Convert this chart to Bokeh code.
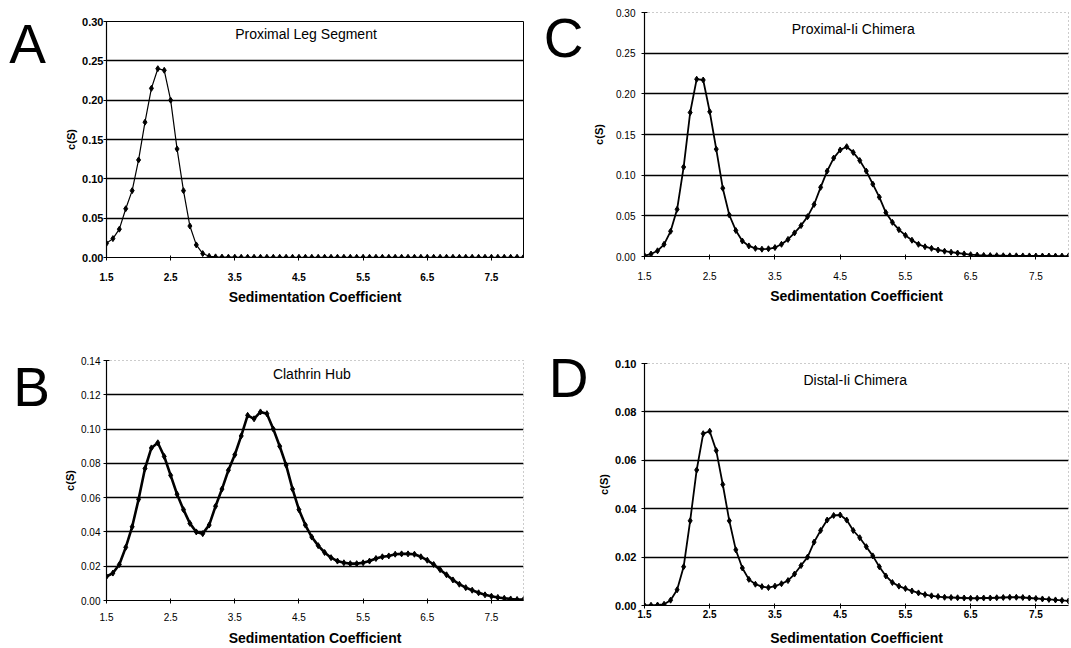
from bokeh.plotting import figure
from bokeh.layouts import column, row
from bokeh.models import Label, FixedTicker, Range1d, PrintfTickFormatter
from bokeh.core.properties import value
from bokeh.embed import file_html
from bokeh.resources import INLINE

FONT = "Liberation Sans"

# Sedimentation coefficient grid (S)
sed_coef = [
    1.5, 1.6, 1.7, 1.8, 1.9, 2.0, 2.1, 2.2, 2.3, 2.4, 2.5, 2.6, 2.7, 2.8, 2.9,
    3.0, 3.1, 3.2, 3.3, 3.4, 3.5, 3.6, 3.7, 3.8, 3.9, 4.0, 4.1, 4.2, 4.3, 4.4,
    4.5, 4.6, 4.7, 4.8, 4.9, 5.0, 5.1, 5.2, 5.3, 5.4, 5.5, 5.6, 5.7, 5.8, 5.9,
    6.0, 6.1, 6.2, 6.3, 6.4, 6.5, 6.6, 6.7, 6.8, 6.9, 7.0, 7.1, 7.2, 7.3, 7.4,
    7.5, 7.6, 7.7, 7.8, 7.9, 8.0,
]

# c(S) distributions
proximal_leg = [
    0.018, 0.024, 0.036, 0.062, 0.085, 0.124, 0.172, 0.215, 0.240, 0.238,
    0.200, 0.138, 0.085, 0.040, 0.016, 0.005, 0.0015, 0.0008, 0.0005, 0.0004,
    0.0004, 0.0003, 0.0003, 0.0003, 0.0003, 0.0003, 0.0003, 0.0003, 0.0003, 0.0003,
    0.0003, 0.0003, 0.0003, 0.0003, 0.0003, 0.0003, 0.0003, 0.0003, 0.0003, 0.0003,
    0.0003, 0.0003, 0.0003, 0.0003, 0.0003, 0.0003, 0.0003, 0.0003, 0.0003, 0.0003,
    0.0003, 0.0003, 0.0003, 0.0003, 0.0003, 0.0003, 0.0003, 0.0003, 0.0003, 0.0003,
    0.0003, 0.0003, 0.0003, 0.0003, 0.0003, 0.0003,
]

clathrin_hub = [
    0.014, 0.016, 0.021, 0.031, 0.043, 0.059, 0.077, 0.089, 0.092, 0.084,
    0.073, 0.062, 0.053, 0.045, 0.040, 0.039, 0.044, 0.055, 0.065, 0.076,
    0.085, 0.096, 0.108, 0.106, 0.110, 0.109, 0.100, 0.090, 0.079, 0.065,
    0.053, 0.044, 0.037, 0.032, 0.028, 0.025, 0.023, 0.022, 0.0215, 0.0215,
    0.022, 0.023, 0.0245, 0.0255, 0.026, 0.027, 0.0272, 0.0272, 0.027, 0.0255,
    0.0235, 0.021, 0.018, 0.015, 0.012, 0.0095, 0.0075, 0.006, 0.0045, 0.0033,
    0.0025, 0.0018, 0.0013, 0.0009, 0.0006, 0.0005,
]

proximal_ii = [
    0.001, 0.003, 0.007, 0.015, 0.031, 0.058, 0.110, 0.177, 0.218, 0.217,
    0.178, 0.132, 0.084, 0.051, 0.032, 0.019, 0.013, 0.010, 0.009, 0.0095,
    0.011, 0.015, 0.021, 0.029, 0.038, 0.049, 0.064, 0.085, 0.105, 0.121,
    0.131, 0.135, 0.128, 0.118, 0.105, 0.089, 0.073, 0.054, 0.042, 0.033,
    0.026, 0.020, 0.015, 0.012, 0.010, 0.008, 0.0065, 0.0053, 0.0043, 0.0032,
    0.0022, 0.0017, 0.0013, 0.0011, 0.0010, 0.0009, 0.0008, 0.0008, 0.0007, 0.0007,
    0.0006, 0.0006, 0.0006, 0.0005, 0.0005, 0.0005,
]

distal_ii = [
    0.0000, 0.0001, 0.0002, 0.0005, 0.0022, 0.0065, 0.016, 0.035, 0.056, 0.071,
    0.072, 0.064, 0.050, 0.035, 0.023, 0.0155, 0.0108, 0.0088, 0.0078, 0.0074,
    0.0080, 0.0090, 0.0103, 0.0130, 0.0165, 0.0200, 0.0262, 0.0310, 0.0353, 0.0372,
    0.0374, 0.0353, 0.0310, 0.0280, 0.0243, 0.0205, 0.0160, 0.0122, 0.0095, 0.0080,
    0.0070, 0.0060, 0.0052, 0.0045, 0.0040, 0.0037, 0.0034, 0.0033, 0.0032, 0.0031,
    0.0030, 0.0030, 0.0031, 0.0031, 0.0032, 0.0033, 0.0034, 0.0034, 0.0033, 0.0031,
    0.0029, 0.0027, 0.0025, 0.0023, 0.0021, 0.0019,
]

x_ticks = [1.5, 2.5, 3.5, 4.5, 5.5, 6.5, 7.5]
y_ticks_a = [0.0, 0.05, 0.10, 0.15, 0.20, 0.25, 0.30]
y_ticks_b = [0.0, 0.02, 0.04, 0.06, 0.08, 0.10, 0.12, 0.14]
y_ticks_c = [0.0, 0.05, 0.10, 0.15, 0.20, 0.25, 0.30]
y_ticks_d = [0.0, 0.02, 0.04, 0.06, 0.08, 0.10]


def letter_strip(letter, width, height, cx, baseline):
    """Narrow blank canvas carrying the panel letter."""
    p = figure(width=width, height=height, output_backend="svg",
               toolbar_location=None, tools="",
               x_axis_type=None, y_axis_type=None,
               x_range=Range1d(0, width), y_range=Range1d(0, height),
               min_border=0, outline_line_color=None,
               background_fill_color="white", border_fill_color="white")
    p.grid.visible = False
    p.text(x=[cx], y=[height - baseline], text=[letter],
           text_font=value(FONT), text_font_size="55px",
           text_color="black", text_align="center",
           text_baseline="alphabetic")
    return p


def panel(title, values, y_ticks, width, height, borders, title_xy,
          bold_ticks, x_standoff, label_standoff, y_standoff,
          y_label_standoff, boxed, line_width):
    left, right, top, bottom = borders
    p = figure(width=width, height=height, output_backend="svg",
               toolbar_location=None, tools="",
               x_range=Range1d(1.5, 8.0), y_range=Range1d(0, y_ticks[-1]),
               min_border_left=left, min_border_right=right,
               min_border_top=top, min_border_bottom=bottom,
               background_fill_color="white", border_fill_color="white")

    p.line(sed_coef, values, line_color="black", line_width=line_width)
    p.scatter(sed_coef, values, marker="diamond", size=6,
              fill_color="black", line_color="black")

    weight = "bold" if bold_ticks else "normal"

    p.xaxis.ticker = FixedTicker(ticks=x_ticks)
    p.yaxis.ticker = FixedTicker(ticks=y_ticks)
    p.yaxis.formatter = PrintfTickFormatter(format="%.2f")
    p.xgrid.visible = False
    p.ygrid.ticker = FixedTicker(ticks=y_ticks)
    p.ygrid.grid_line_color = "black"
    p.ygrid.grid_line_width = 1.3

    for ax in (p.xaxis[0], p.yaxis[0]):
        ax.axis_line_color = "black"
        ax.axis_line_width = 1.2
        ax.major_tick_line_color = "black"
        ax.major_tick_line_width = 1
        ax.minor_tick_line_color = None
        ax.major_label_text_font = FONT
        ax.major_label_text_font_style = weight
        ax.major_label_text_color = "black"
        ax.axis_label_text_font = FONT
        ax.axis_label_text_font_style = "bold"
        ax.axis_label_text_color = "black"
    p.xaxis.major_label_text_font_size = "10px"
    p.yaxis.major_label_text_font_size = "11px" if bold_ticks else "10px"
    p.xaxis.major_tick_in = 2
    p.xaxis.major_tick_out = 3
    p.yaxis.major_tick_in = 3
    p.yaxis.major_tick_out = 3
    p.xaxis.major_label_standoff = x_standoff
    p.yaxis.major_label_standoff = y_standoff
    p.xaxis.axis_label = "Sedimentation Coefficient"
    p.xaxis.axis_label_text_font_size = "14px"
    p.xaxis.axis_label_standoff = label_standoff
    p.yaxis.axis_label = "c(S)"
    p.yaxis.axis_label_text_font_size = "11px"
    p.yaxis.axis_label_standoff = y_label_standoff

    if boxed:
        p.outline_line_color = "black"
        p.outline_line_width = 1
    else:
        p.outline_line_color = "#999999"
        p.outline_line_width = 1
        p.outline_line_dash = "1 3"

    p.add_layout(Label(x=title_xy[0], y=title_xy[1], text=title,
                       text_font=FONT, text_font_size="14px",
                       text_color="black", text_align="center",
                       text_baseline="middle"))
    return p


lab_a = letter_strip("A", 50, 320, 27, 43)
lab_b = letter_strip("B", 50, 328, 31, 66)
lab_c = letter_strip("C", 54, 320, 28, 37)
lab_d = letter_strip("D", 54, 328, 33, 57)

p_a = panel("Proximal Leg Segment", proximal_leg, y_ticks_a,
            485, 320, (56, 11, 21, 63), (4.61, 0.2847),
            True, 12, 5, 0, 2, True, 1.2)
p_b = panel("Clathrin Hub", clathrin_hub, y_ticks_b,
            485, 328, (56, 12, 40, 47), (4.70, 0.1324),
            False, 9, 6, 3, 2, False, 2.6)
p_c = panel("Proximal-Ii Chimera", proximal_ii, y_ticks_c,
            482, 320, (55, 3, 12, 64), (4.70, 0.2803),
            False, 12, 5, 6, 8, False, 1.8)
p_d = panel("Distal-Ii Chimera", distal_ii, y_ticks_d,
            482, 328, (55, 2, 43, 42), (4.73, 0.093),
            True, 1, 9, 5, 2, False, 1.8)

layout = row(column(lab_a, lab_b, spacing=0),
             column(p_a, p_b, spacing=0),
             column(lab_c, lab_d, spacing=0),
             column(p_c, p_d, spacing=0),
             spacing=0)

with open("out.html", "w") as f:
    f.write(file_html(layout, INLINE))
